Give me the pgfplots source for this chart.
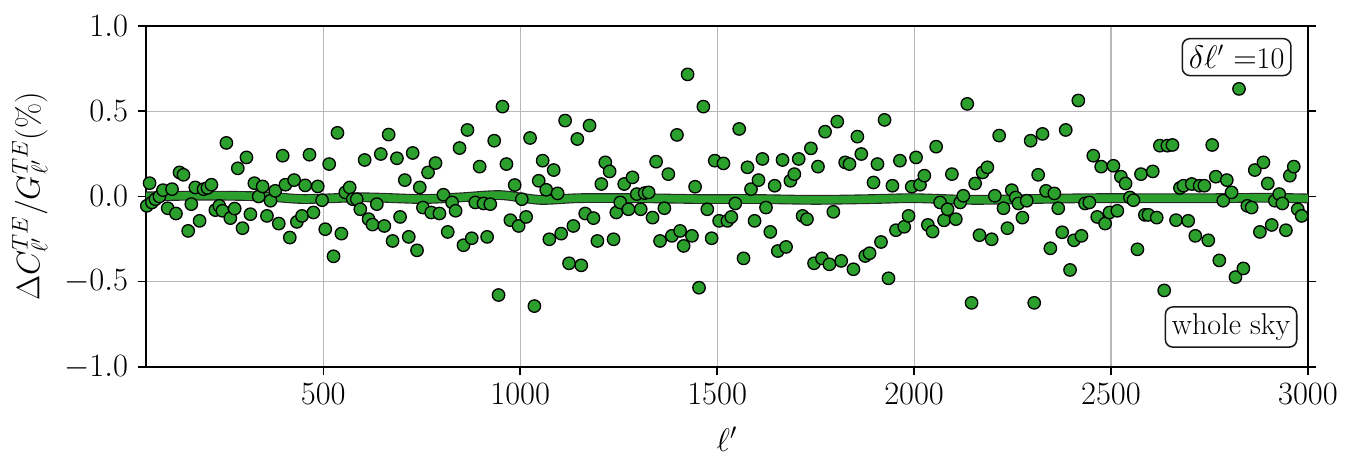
\documentclass[border=0pt]{standalone}
\usepackage{pgfplots}
\usepackage{pgfplotstable}
\pgfplotsset{compat=1.18}
\definecolor{tabgreen}{RGB}{44,160,44}
\pgfplotstableread{
l v
52 -0.055
59 0.078
65 -0.035
74 -0.016
84 0.0
93 0.037
105 -0.069
116 0.043
126 -0.10
135 0.141
145 0.127
157 -0.202
165 -0.045
175 0.053
186 -0.143
196 0.043
206 0.05
216 0.069
226 -0.08
236 -0.055
244 -0.084
254 0.314
264 -0.127
275 -0.071
283 0.165
295 -0.186
305 0.229
315 -0.104
325 0.078
336 0.0
346 0.059
357 -0.114
366 -0.025
378 0.033
387 -0.159
397 0.239
404 0.069
415 -0.241
426 0.096
433 -0.149
446 -0.114
454 0.065
465 0.245
475 -0.094
486 0.059
497 -0.022
505 -0.192
515 0.19
526 -0.351
536 0.373
546 -0.218
556 0.024
567 0.053
575 -0.016
585 -0.016
594 -0.075
605 0.214
615 -0.133
625 -0.165
636 -0.045
646 0.249
655 -0.173
666 0.363
676 -0.261
687 0.224
695 -0.12
707 0.096
717 -0.237
727 0.255
738 -0.316
745 0.053
753 -0.065
766 0.141
774 -0.094
785 0.196
795 -0.1
805 0.01
816 -0.208
827 -0.035
836 -0.084
846 0.284
856 -0.286
866 0.39
877 -0.245
886 -0.035
897 0.175
907 -0.041
916 -0.237
924 -0.045
934 0.327
945 -0.578
955 0.527
965 0.19
975 -0.139
986 0.067
996 -0.173
1004 -0.016
1015 -0.12
1025 0.343
1036 -0.643
1047 0.092
1057 0.21
1066 0.039
1074 -0.251
1085 0.155
1095 0.018
1104 -0.218
1114 0.445
1124 -0.392
1135 -0.173
1145 0.337
1155 -0.404
1165 -0.1
1176 0.416
1186 -0.127
1196 -0.261
1206 0.073
1216 0.2
1227 0.147
1237 -0.251
1244 -0.094
1254 -0.035
1264 0.073
1275 -0.075
1285 0.112
1296 0.014
1306 -0.075
1316 0.02
1326 0.024
1336 -0.124
1345 0.204
1355 -0.261
1366 -0.069
1376 0.131
1385 -0.231
1398 0.361
1406 -0.202
1415 -0.29
1425 0.716
1436 -0.231
1444 0.057
1454 -0.535
1465 0.527
1475 -0.075
1486 -0.245
1494 0.21
1505 -0.143
1516 0.194
1526 -0.143
1536 -0.12
1546 -0.041
1556 0.396
1567 -0.363
1577 0.171
1586 0.043
1595 -0.143
1605 0.096
1615 0.22
1624 -0.065
1635 -0.208
1646 0.063
1654 -0.32
1666 0.214
1675 -0.296
1686 0.092
1696 0.131
1707 0.22
1717 -0.114
1728 -0.133
1738 0.282
1746 -0.392
1756 0.175
1766 -0.363
1774 0.38
1785 -0.398
1795 -0.09
1805 0.439
1815 -0.378
1825 0.2
1836 0.19
1846 -0.427
1856 0.351
1866 0.249
1876 -0.349
1887 -0.333
1897 0.082
1907 0.19
1916 -0.267
1925 0.449
1935 -0.48
1945 0.063
1954 -0.198
1964 0.21
1975 -0.178
1986 -0.114
1994 0.057
2005 0.229
2015 0.069
2026 0.122
2035 -0.167
2047 -0.206
2056 0.292
2066 -0.035
2076 -0.14
2085 -0.075
2096 0.131
2106 -0.133
2117 -0.035
2125 0.004
2135 0.543
2146 -0.624
2155 0.076
2166 -0.227
2174 0.141
2186 0.171
2197 -0.251
2205 0.004
2216 0.357
2227 -0.069
2237 -0.186
2248 0.037
2258 -0.006
2265 -0.041
2275 -0.124
2286 -0.025
2296 0.327
2305 -0.624
2315 0.127
2326 0.367
2335 0.033
2346 -0.304
2356 0.018
2366 -0.069
2376 -0.21
2385 0.39
2396 -0.431
2406 -0.257
2417 0.563
2425 -0.231
2434 -0.041
2445 -0.035
2455 0.239
2465 -0.12
2475 0.175
2485 -0.159
2496 -0.094
2506 0.18
2516 -0.084
2525 0.116
2537 0.076
2548 -0.006
2557 -0.022
2567 -0.31
2576 0.131
2586 -0.108
2595 -0.108
2606 0.147
2616 -0.124
2624 0.298
2635 -0.551
2643 0.298
2656 0.302
2665 -0.139
2675 0.05
2684 0.063
2696 -0.143
2705 0.073
2714 -0.231
2725 0.063
2737 0.063
2747 -0.257
2757 0.302
2766 0.116
2775 -0.375
2785 -0.025
2794 0.096
2806 0.024
2816 -0.473
2825 0.631
2836 -0.422
2846 -0.055
2857 -0.065
2865 0.155
2878 -0.208
2887 0.2
2898 0.076
2908 -0.167
2916 -0.025
2927 0.014
2935 -0.041
2944 -0.198
2954 0.122
2964 0.175
2974 -0.075
2984 -0.114
}\pts
\pgfplotstableread{
l v
40 0.0
200 0.005
350 0.0
450 -0.015
600 -0.005
750 -0.015
850 -0.005
950 0.008
1050 -0.02
1150 -0.01
1300 -0.01
1450 -0.015
1600 -0.015
1750 -0.02
1900 -0.015
2000 -0.01
2150 -0.02
2300 -0.015
2450 -0.01
2600 -0.01
2750 -0.01
2900 -0.008
3010 -0.012
}\smoothline
\begin{document}
\begin{tikzpicture}
\begin{axis}[
  at={(0,0)}, anchor=south west,
  scale only axis, width=617.4pt, height=181.2pt,
  xmin=50, xmax=3000, ymin=-1, ymax=1,
  xtick={500,1000,1500,2000,2500,3000},
  ytick={-1,-0.5,0,0.5,1},
  /pgf/number format/1000 sep={},
  yticklabel style={xshift=-1.5pt, /pgf/number format/.cd, fixed, fixed zerofill, precision=1},
  xticklabel style={yshift=-1pt},
  grid=major,
  grid style={color=black!28, line width=0.6pt},
  axis line style={line width=1.4pt},
  tick style={line width=0.8pt, black},
  major tick length=4.5pt,
  tick align=outside,
  xtick pos=bottom, ytick pos=both, yticklabel pos=left,
  ticklabel style={font=\fontsize{18.4}{22}\selectfont},
  label style={font=\fontsize{17.5}{21}\selectfont},
  xlabel={$\ell'$},
  xlabel style={yshift=-5pt},
  ylabel={$\Delta C_{\ell'}^{TE}/G_{\ell'}^{TE}(\%)$},
  ylabel style={yshift=2pt},
]
\addplot[only marks, mark=*, mark size=3.3pt, mark options={fill=tabgreen, draw=black, line width=0.7pt}] table[x=l,y=v] {\pts};
\addplot[black!85, line width=5.2pt, smooth] table[x=l,y=v] {\smoothline};
\addplot[tabgreen, line width=4pt, smooth] table[x=l,y=v] {\smoothline};
\node[draw=black!90, fill=white, rounded corners=4pt, line width=0.8pt, anchor=north east, inner sep=3.5pt, font=\fontsize{16}{19}\selectfont] at (rel axis cs:0.986,0.965) {$\delta\ell'$ $=$10};
\node[draw=black!90, fill=white, rounded corners=4pt, line width=0.8pt, anchor=south east, inner sep=3.5pt, font=\fontsize{16}{19}\selectfont] at (rel axis cs:0.991,0.056) {whole sky};
\end{axis}
\pgfresetboundingbox
\path[use as bounding box] (-77.6pt,-52.6pt) rectangle (642.4pt,195pt);
\end{tikzpicture}
\end{document}
